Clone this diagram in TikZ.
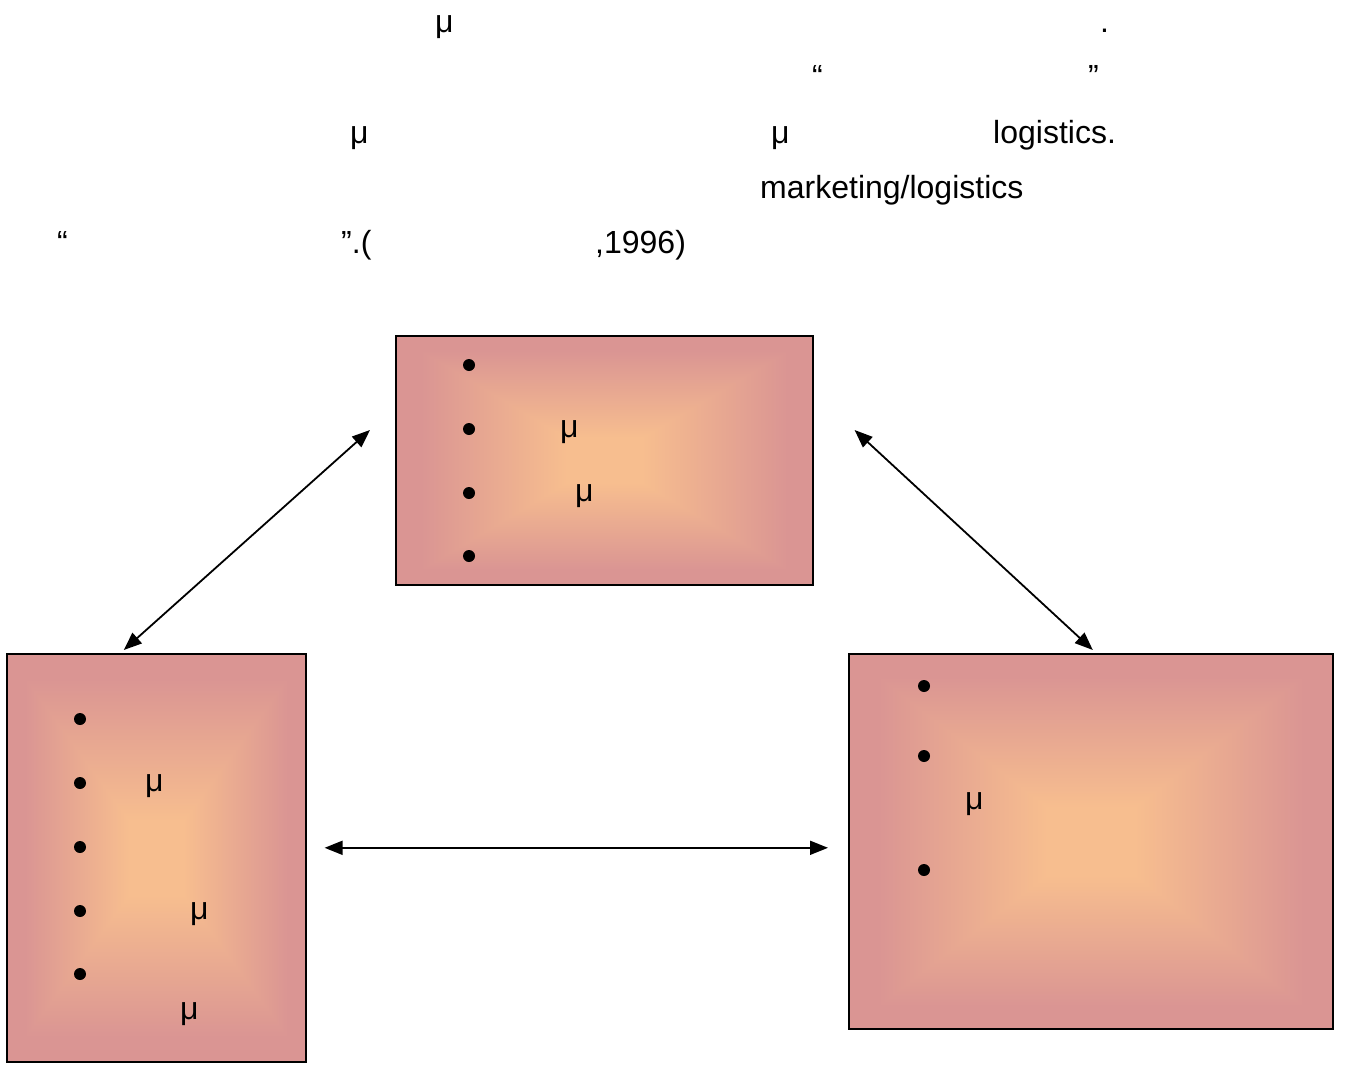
\documentclass[tikz,border=0pt]{standalone}
\usepackage{fontspec}
\setmainfont{Liberation Sans}
\usetikzlibrary{arrows.meta,calc}

% rectangular glow: light peach in the middle, rose towards every edge
% (the path fills the central 50bp square of the shading)
\pgfdeclarefunctionalshading{rectglow}{\pgfpoint{-50bp}{-50bp}}{\pgfpoint{50bp}{50bp}}{}{
abs exch abs 2 copy lt {exch} if pop
25 div 0.18 sub 0.70 div
dup 0 lt {pop 0} if
dup 1 gt {pop 1} if
dup -0.114 mul 0.969 add exch
dup -0.161 mul 0.745 add exch
0.015 mul 0.561 add
}

\tikzset{
  panel/.style={draw=black, line width=1.6pt, shading=rectglow, inner sep=0pt, anchor=north west},
  dot/.style={circle, fill=black, inner sep=0pt, minimum size=12pt},
  txt/.style={anchor=base west, inner sep=0pt, font=\fontsize{32}{38}\selectfont},
  link/.style={line width=1.8pt, {Triangle[length=18pt,width=14pt]}-{Triangle[length=18pt,width=14pt]}}
}

\begin{document}
\begin{tikzpicture}[x=1pt,y=-1pt]
\useasboundingbox (0,0) rectangle (1346,1065);

% running text above the diagram
\node[txt] (t1a) at (435,33) {μ};
\node[txt] (t1b) at (1100,33) {.};
\node[txt] (t2a) at (812,88) {“};
\node[txt] (t2b) at (1088,88) {”};
\node[txt] (t3a) at (350,143) {μ};
\node[txt] (t3b) at (771,143) {μ};
\node[txt] (t3c) at (993,143) {logistics.};
\node[txt] (t4a) at (760,198) {marketing/logistics};
\node[txt] (t5a) at (57,253) {“};
\node[txt] (t5b) at (341,253) {”.(};
\node[txt] (t5c) at (595,253) {,1996)};

% the three panels
\node[panel, minimum width=417pt, minimum height=249pt] (top) at (395,335) {};
\node[panel, minimum width=299pt, minimum height=408pt] (left) at (6,653) {};
\node[panel, minimum width=484pt, minimum height=375pt] (right) at (848,653) {};

% bullets and labels in the top panel
\node[dot] (tb1) at (469,365) {};
\node[dot] (tb2) at (469,429) {};
\node[dot] (tb3) at (469,493) {};
\node[dot] (tb4) at (469,556) {};
\node[txt] (tm1) at (560,437) {μ};
\node[txt] (tm2) at (575,501) {μ};

% bullets and labels in the left panel
\node[dot] (lb1) at (80,719) {};
\node[dot] (lb2) at (80,783) {};
\node[dot] (lb3) at (80,847) {};
\node[dot] (lb4) at (80,911) {};
\node[dot] (lb5) at (80,974) {};
\node[txt] (lm1) at (145,791) {μ};
\node[txt] (lm2) at (190,919) {μ};
\node[txt] (lm3) at (180,1019) {μ};

% bullets and label in the right panel
\node[dot] (rb1) at (924,686) {};
\node[dot] (rb2) at (924,756) {};
\node[dot] (rb3) at (924,870) {};
\node[txt] (rm1) at (965,809) {μ};

% arrow end points, set a little off the panels
\coordinate (pA) at ($(top.north west)+(-25,95)$);
\coordinate (pB) at ($(left.north)+(-32.5,-3)$);
\coordinate (pC) at ($(top.north east)+(41,95)$);
\coordinate (pD) at ($(right.north)+(2,-3)$);
\coordinate (pE) at ($(left.east)+(18,-10)$);
\coordinate (pF) at ($(right.west)+(-20,6.5)$);

\draw[link] (pA) -- (pB);
\draw[link] (pC) -- (pD);
\draw[link] (pE) -- (pF);
\end{tikzpicture}
\end{document}
